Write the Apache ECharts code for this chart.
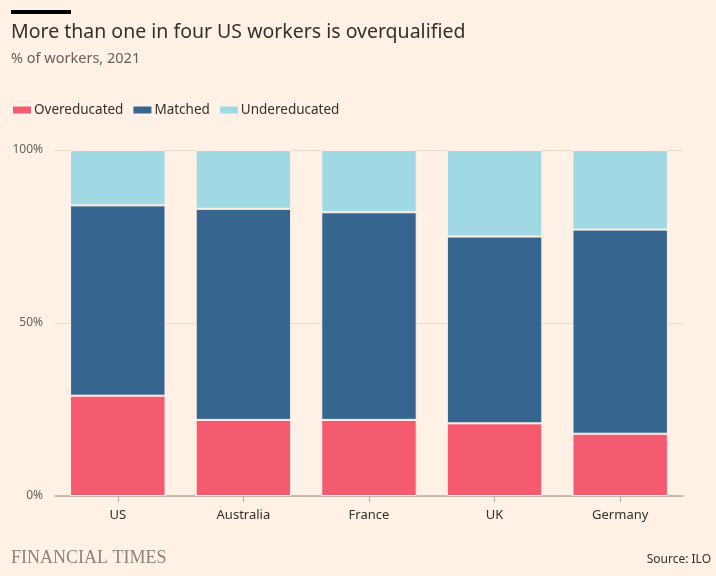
<!DOCTYPE html>
<html><head><meta charset="utf-8">
<script src="https://cdn.jsdelivr.net/npm/echarts@6/dist/echarts.min.js"></script>
<style>html,body{margin:0;padding:0;background:#fff1e5;}#c{width:716px;height:576px;}</style>
</head><body><div id="c"></div>
<script>
const categories = ['US','Australia','France','UK','Germany'];
const overeducated = [29,22,22,21,18];
const matched = [55,61,60,54,59];
const undereducated = [16,17,18,25,23];
const yTicks = ['0%','50%','100%'];

const chart = echarts.init(document.getElementById('c'));
const F = '"Noto Sans", sans-serif';
const mk = (name, data, color) => ({
  name, type:'bar', stack:'s', data, barWidth:'76%',
  itemStyle:{color, borderColor:'#fff1e5', borderWidth:1},
  emphasis:{disabled:true}
});
chart.setOption({
  backgroundColor:'#fff1e5',
  animation:false,
  graphic:[
    {type:'rect', left:11, top:10, shape:{width:60,height:4}, style:{fill:'#000'}},
    {type:'text', left:11, top:22, style:{text:'More than one in four US workers is overqualified', font:'19.5px '+F, fill:'#33302e'}},
    {type:'text', left:11, top:51, style:{text:'% of workers, 2021', font:'14.5px '+F, fill:'#66605c'}},
    {type:'text', left:11, top:549, style:{text:'FINANCIAL TIMES', font:'18px "Liberation Serif", serif', fill:'#8a847e'}},
    {type:'text', right:5, top:554, style:{text:'Source: ILO', font:'12px '+F, fill:'#33302e'}}
  ],
  legend:{left:6, top:98, itemWidth:20, itemHeight:9, itemGap:8, icon:'rect',
    textStyle:{fontFamily:F, fontSize:13.5, color:'#33302e', padding:[0,0,0,-3]},
    data:['Overeducated','Matched','Undereducated']},
  grid:{left:55, right:33, top:150, bottom:80},
  xAxis:{type:'category', data:categories,
    axisLine:{lineStyle:{color:'#b3aca6', width:1.5}},
    axisTick:{show:true, alignWithLabel:true, length:6, lineStyle:{color:'#b3aca6'}},
    axisLabel:{fontFamily:F, fontSize:13, color:'#33302e', margin:13}},
  yAxis:{type:'value', min:0, max:100, interval:50,
    axisLabel:{fontFamily:F, fontSize:12, color:'#66605c', margin:12,
      formatter:(v)=>yTicks[v/50]},
    axisLine:{show:false}, axisTick:{show:false},
    splitLine:{lineStyle:{color:'#e6d9ce', width:1}}},
  series:[
    mk('Overeducated', overeducated, '#f55b70'),
    mk('Matched', matched, '#366690'),
    mk('Undereducated', undereducated, '#a0d8e3')
  ]
});
</script></body></html>
